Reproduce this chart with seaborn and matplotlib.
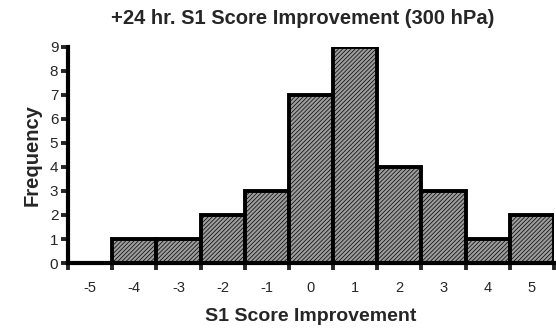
import numpy as np
import pandas as pd
import matplotlib
matplotlib.use("Agg")
import matplotlib.pyplot as plt
import seaborn as sns

# S1 score improvement bins and their frequencies
scores = [-5, -4, -3, -2, -1, 0, 1, 2, 3, 4, 5]
counts = [0, 1, 1, 2, 3, 7, 9, 4, 3, 1, 2]
y_ticks = [0, 1, 2, 3, 4, 5, 6, 7, 8, 9]

sns.set_style("white")
plt.rcParams["font.family"] = ["Liberation Sans", "DejaVu Sans"]
plt.rcParams["hatch.linewidth"] = 0.5
plt.rcParams["hatch.color"] = "#555555"

df = pd.DataFrame({"score": scores, "count": counts})
edges = [s - 0.5 for s in scores] + [scores[-1] + 0.5]

fig = plt.figure(figsize=(5.56, 3.33), dpi=100)
ax = fig.add_axes([0.1223, 0.2102, 0.8741, 0.6487])

sns.histplot(data=df, x="score", weights="count", bins=edges, ax=ax,
             color="#9c9c9c", alpha=1.0, edgecolor="black", linewidth=2.8)
for p in ax.patches:
    p.set_hatch("////////")

ax.set_xlim(edges[0], edges[-1])
ax.set_ylim(0, 9)

# ticks at bin edges, labels at bin centres
ax.set_xticks(edges)
ax.set_xticklabels([])
ax.set_xticks(scores, minor=True)
ax.set_xticklabels([str(s) for s in scores], minor=True, fontsize=10.5)
ax.tick_params(axis="x", which="major", direction="out", length=5, width=2.8, bottom=True)
ax.tick_params(axis="x", which="minor", length=0, pad=13)
ax.set_yticks(y_ticks)
ax.set_yticklabels([str(v) for v in y_ticks], fontsize=11)
ax.tick_params(axis="y", direction="out", length=5, width=2.8, left=True, pad=2)

for side in ["top", "right"]:
    ax.spines[side].set_visible(False)
for side in ["left", "bottom"]:
    ax.spines[side].set_linewidth(3)
    ax.spines[side].set_color("black")

ax.set_xlabel("S1 Score Improvement", fontsize=14, fontweight="bold", labelpad=9)
ax.set_ylabel("Frequency", fontsize=14.5, fontweight="bold", labelpad=6)
fig.text(0.544, 0.943, "+24 hr. S1 Score Improvement (300 hPa)", ha="center", va="center",
         fontsize=14.5, fontweight="bold")

fig.savefig("out.png", dpi=100)
